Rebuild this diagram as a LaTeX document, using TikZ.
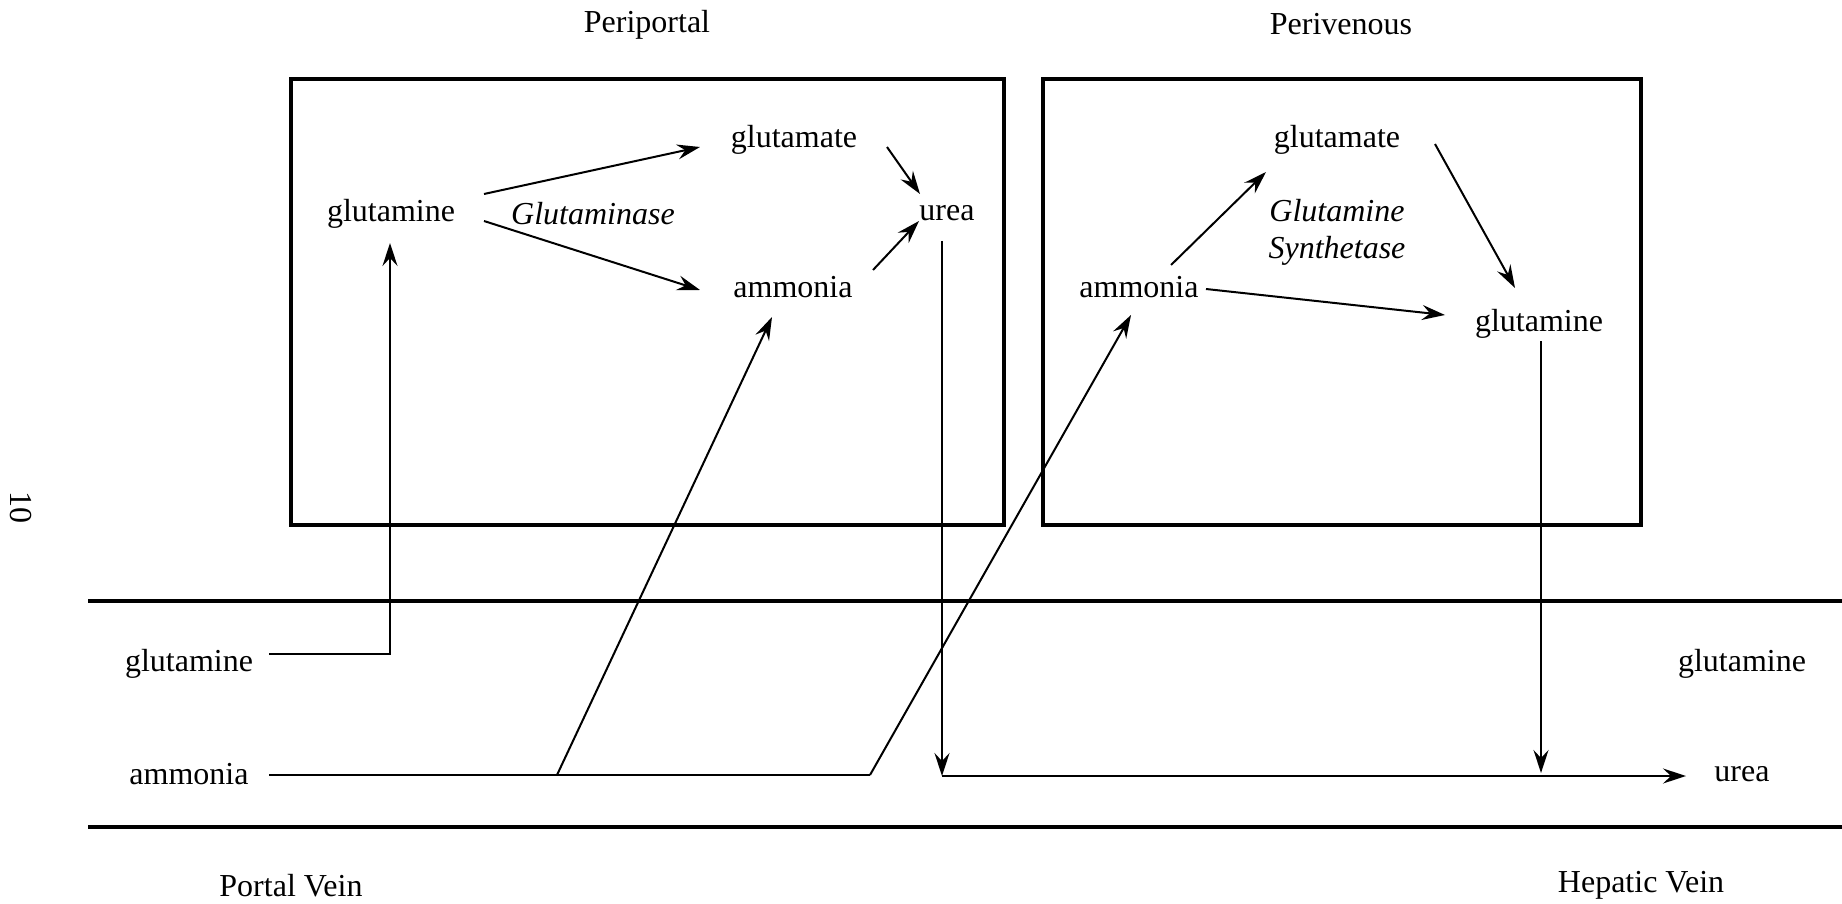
\documentclass[tikz,border=0pt]{standalone}
\usepackage{fontspec}
\setmainfont{Liberation Serif}
\usetikzlibrary{arrows.meta,calc}
\begin{document}
\begin{tikzpicture}[x=1pt,y=-1pt,
  lbl/.style={inner sep=0pt, font=\fontsize{32}{37}\selectfont},
  enz/.style={inner sep=0pt, font=\fontsize{32}{37}\selectfont\itshape, align=center},
  arr/.style={line width=2pt, -{Stealth[length=23pt,width=15pt,inset=8pt]}},
  ln/.style={line width=2pt},
  frame/.style={line width=3.5pt},
]
\useasboundingbox (0,0) rectangle (1842,904);

% titles
\node[lbl] (tPeri) at (647,24.5) {Periportal};
\node[lbl] (tPeriv) at (1341,24.5) {Perivenous};
\node[lbl, rotate=-90] (pgnum) at (21,507) {10};

% boxes
\draw[frame] (291,79) rectangle (1004,525);
\draw[frame] (1043,79) rectangle (1641,525);

% vessel walls
\draw[frame] (88,601) -- (1842,601);
\draw[frame] (88,827) -- (1842,827);

% periportal cell
\node[lbl] (Lgln) at (391,213.5) {glutamine};
\node[enz] (Lenz) at (593,213.5) {Glutaminase};
\node[lbl] (Lglu) at (794,139.5) {glutamate};
\node[lbl] (Lamm) at (793,287.5) {ammonia};
\node[lbl] (Lurea) at (947,213.5) {urea};

% perivenous cell
\node[lbl] (Rglu) at (1337,139.5) {glutamate};
\node[enz] (Renz) at (1337,232) {Glutamine\\Synthetase};
\node[lbl] (Ramm) at (1139,287.5) {ammonia};
\node[lbl] (Rgln) at (1539,323.5) {glutamine};

% vessel labels
\node[lbl] (Pgln) at (189,663.5) {glutamine};
\node[lbl] (Pamm) at (189,774.5) {ammonia};
\node[lbl] (Hgln) at (1742,663.5) {glutamine};
\node[lbl] (Hurea) at (1742,774.5) {urea};
\node[lbl] (Pvein) at (291,885.5) {Portal Vein};
\node[lbl] (Hvein) at (1641,885.5) {Hepatic Vein};

% junctions
\coordinate (b1) at (557,775);
\coordinate (b2) at (870,775);
\coordinate (ujoin) at (942,776);
\coordinate (gjoin) at (1541,773);

% periportal arrows
\draw[arr] ($(Lgln)+(93,-19.5)$) -- ($(Lglu)+(-94,7.5)$);
\draw[arr] ($(Lgln)+(93,7.5)$) -- ($(Lamm)+(-93,2.5)$);
\draw[arr] ($(Lglu)+(93,7.5)$) -- ($(Lurea)+(-27,-19.5)$);
\draw[arr] ($(Lamm)+(80,-17.5)$) -- ($(Lurea)+(-28,7.5)$);

% perivenous arrows
\draw[arr] ($(Ramm)+(32,-22.5)$) -- ($(Rglu)+(-71,32.5)$);
\draw[arr] ($(Ramm)+(67,1.5)$) -- ($(Rgln)+(-94,-8.5)$);
\draw[arr] ($(Rglu)+(98,4.5)$) -- ($(Rgln)+(-24,-35.5)$);

% transport
\draw[arr] ($(Pgln)+(80,-9.5)$) -| ($(Lgln)+(-1,29.5)$);
\draw[ln] ($(Pamm)+(80,0.5)$) -- (b2);
\draw[arr] (b1) -- ($(Lamm)+(-21,29.5)$);
\draw[arr] (b2) -- ($(Ramm)+(-8,27.5)$);
\draw[arr] ($(Lurea)+(-5,27.5)$) -- (ujoin);
\draw[arr] (ujoin) -- ($(Hurea)+(-56,1.5)$);
\draw[arr] ($(Rgln)+(2,17.5)$) -- (gjoin);
\end{tikzpicture}
\end{document}
